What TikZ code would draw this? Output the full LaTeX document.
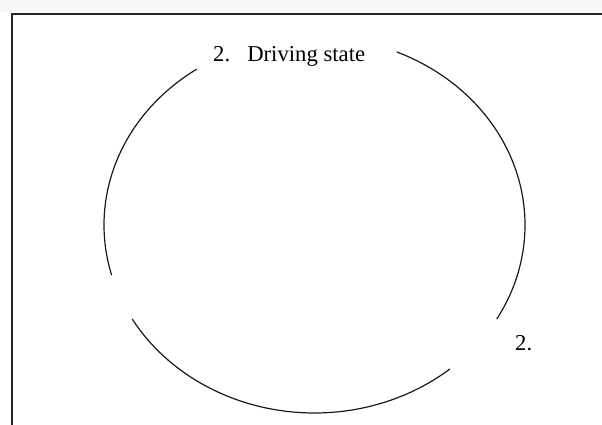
\documentclass[tikz,border=0pt]{standalone}
\usepackage{fontspec}
\setmainfont{Liberation Serif}
\begin{document}
\begin{tikzpicture}[x=1pt,y=1pt,
  frame/.style={line width=1.3pt,draw=black!85},
  orbit/.style={line width=1.2pt,draw=black!90},
  lbl/.style={inner sep=0pt,anchor=base west,font=\fontsize{22.7}{27}\selectfont}]
\useasboundingbox (0,0) rectangle (602,425);
\clip (0,0) rectangle (602,425);
\fill[black!3] (0,413) rectangle (602,425);
\draw[frame] (12,-10) -- (12,411) -- (620,411);
\coordinate (c) at (314.5,200);
\draw[orbit] (c) ++(124:210.5pt and 188pt) arc[start angle=124,end angle=195.5,x radius=210.5pt,y radius=188pt];
\draw[orbit] (c) ++(210:210.5pt and 188pt) arc[start angle=210,end angle=310,x radius=210.5pt,y radius=188pt];
\draw[orbit] (c) ++(-30:210.5pt and 188pt) arc[start angle=-30,end angle=67,x radius=210.5pt,y radius=188pt];
\node[lbl] (t1) at (213,363) {2.\hspace{0.75em}Driving state};
\node[lbl] (t2) at (515,74) {2.};
\end{tikzpicture}
\end{document}
